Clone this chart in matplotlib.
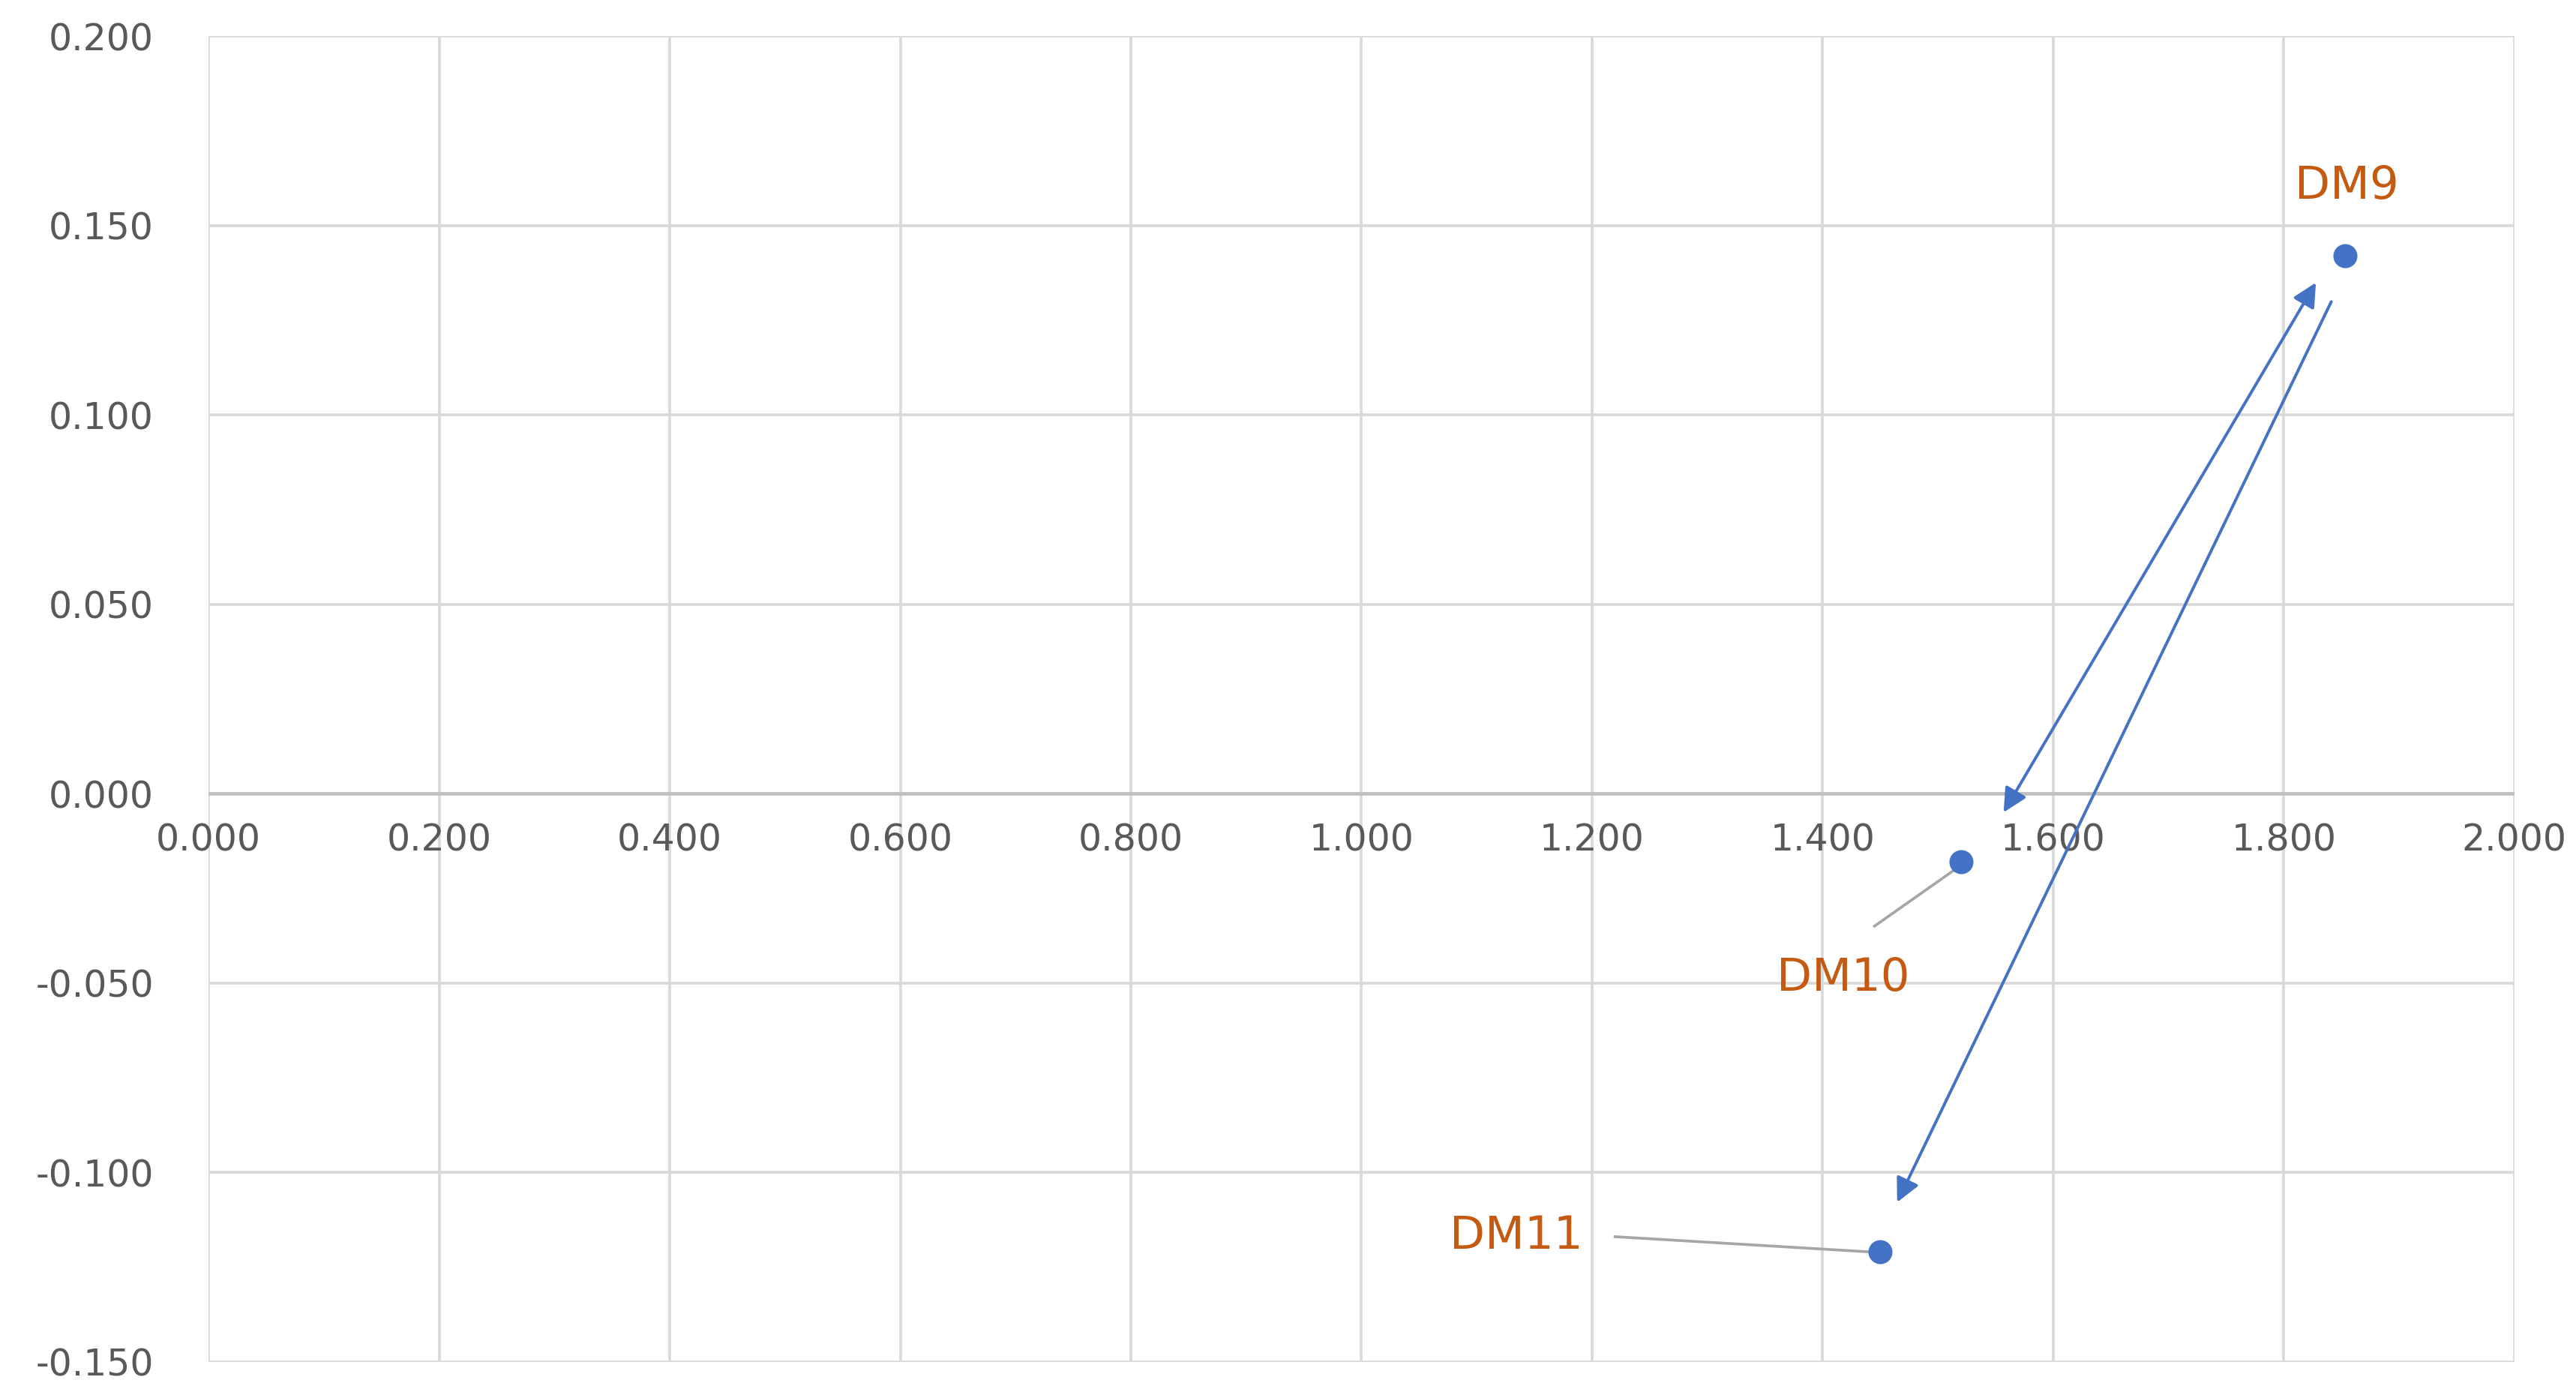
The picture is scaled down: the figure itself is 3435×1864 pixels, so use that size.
import matplotlib.pyplot as plt
import numpy as np

names = ["DM9", "DM10", "DM11"]
xs = [1.853, 1.520, 1.450]
ys = [0.142, -0.018, -0.121]
xticks = np.arange(0, 2.01, 0.2)
yticks = np.arange(-0.15, 0.201, 0.05)

fig = plt.figure(figsize=(15.614, 8.473), dpi=220)
ax = fig.add_axes([0.081, 0.026, 0.895, 0.948])
ax.set_xlim(0, 2.0)
ax.set_ylim(-0.15, 0.2)
ax.set_xticks(xticks)
ax.set_yticks(yticks)
ax.grid(True, color="#d9d9d9", linewidth=1.2)
ax.set_axisbelow(True)
for s in ["top", "right", "left", "bottom"]:
    ax.spines[s].set_visible(False)
ax.axhline(0, color="#bfbfbf", linewidth=1.5, zorder=1)
ax.tick_params(length=0, labelsize=16, colors="#595959")
ax.tick_params(axis="y", pad=24)
ax.set_yticklabels([f"{v:.3f}" for v in yticks])
ax.set_xticklabels([])
# x tick labels sit just below the y=0 line
for v in xticks:
    ax.text(v, -0.0075, f"{v:.3f}", ha="center", va="top", fontsize=16, color="#595959")

ax.scatter(xs, ys, s=90, color="#4472c4", zorder=3)

blue = "#4472c4"
ax.annotate("", xy=(1.830, 0.136), xytext=(1.555, -0.006),
            arrowprops=dict(arrowstyle="<|-|>", color=blue, lw=1.3, mutation_scale=22))
ax.annotate("", xy=(1.463, -0.109), xytext=(1.843, 0.131),
            arrowprops=dict(arrowstyle="-|>", color=blue, lw=1.3, mutation_scale=22))

orange = "#c55a11"
ax.text(1.855, 0.1545, names[0], ha="center", va="bottom", fontsize=20, color=orange)
ax.text(1.418, -0.0488, names[1], ha="center", va="center", fontsize=20, color=orange)
ax.text(1.134, -0.117, names[2], ha="center", va="center", fontsize=20, color=orange)
ax.plot([1.445, 1.515], [-0.035, -0.020], color="#a6a6a6", lw=1.2)
ax.plot([1.220, 1.440], [-0.117, -0.121], color="#a6a6a6", lw=1.2)

fig.savefig("out.png", dpi=220)
